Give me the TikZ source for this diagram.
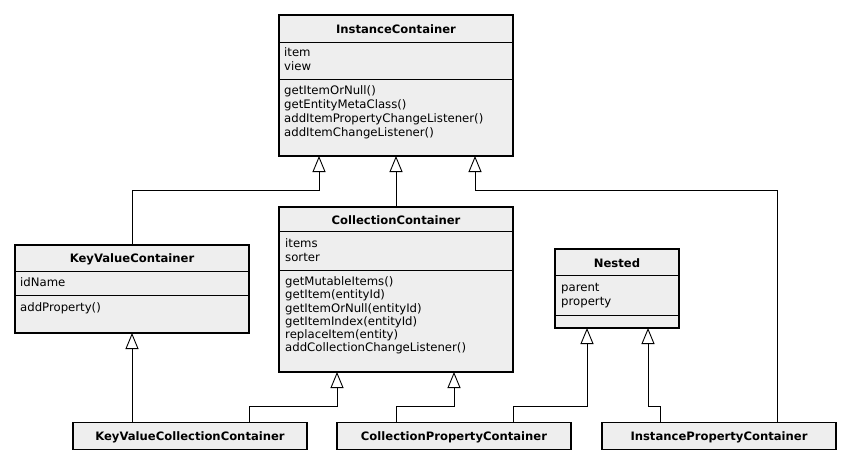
\documentclass[tikz,border=0pt]{standalone}
\usepackage{fontspec}
\setmainfont{DejaVu Sans}
\usetikzlibrary{arrows.meta}
\definecolor{boxfill}{HTML}{EEEEEE}
\tikzset{
  cls/.style={draw=black, line width=1.1pt, fill=boxfill, rectangle, inner sep=0pt, outer sep=0pt, anchor=north west},
  sepline/.style={draw=black, line width=0.9pt},
  ttl/.style={font=\fontsize{11.6}{14}\selectfont\bfseries, inner sep=0pt, anchor=base},
  mem/.style={font=\fontsize{11.7}{14}\selectfont, inner sep=0pt, anchor=base west},
  inh/.style={draw=black, line width=0.9pt, -{Triangle[length=16pt,width=13pt,fill=white,line width=0.9pt]}}
}
\begin{document}
\begin{tikzpicture}[x=1pt,y=-1pt]
\useasboundingbox (0,0) rectangle (851,464);

% InstanceContainer
\node[cls, minimum width=234, minimum height=141] (ic) at (279,15) {};
\draw[sepline] (ic.west |- 0,42) -- (ic.east |- 0,42);
\draw[sepline] (ic.west |- 0,79) -- (ic.east |- 0,79);
\node[ttl] (ict) at (396,33) {InstanceContainer};
\node[mem] (ica1) at (284,56.8) {item};
\node[mem] (ica2) at (284,70.8) {view};
\node[mem] (icm1) at (284,94.4) {getItemOrNull()};
\node[mem] (icm2) at (284,108.4) {getEntityMetaClass()};
\node[mem] (icm3) at (284,122.4) {addItemPropertyChangeListener()};
\node[mem] (icm4) at (284,136.4) {addItemChangeListener()};

% KeyValueContainer
\node[cls, minimum width=234, minimum height=88] (kvc) at (15,245) {};
\draw[sepline] (kvc.west |- 0,271) -- (kvc.east |- 0,271);
\draw[sepline] (kvc.west |- 0,295) -- (kvc.east |- 0,295);
\node[ttl] (kvct) at (132,262.5) {KeyValueContainer};
\node[mem] (kvca1) at (20,286.8) {idName};
\node[mem] (kvcm1) at (20,311.8) {addProperty()};

% CollectionContainer
\node[cls, minimum width=234, minimum height=165] (cc) at (279,207) {};
\draw[sepline] (cc.west |- 0,231) -- (cc.east |- 0,231);
\draw[sepline] (cc.west |- 0,270.5) -- (cc.east |- 0,270.5);
\node[ttl] (cct) at (396,224.5) {CollectionContainer};
\node[mem] (cca1) at (285,247.5) {items};
\node[mem] (cca2) at (285,261.5) {sorter};
\node[mem] (ccm1) at (285,285.2) {getMutableItems()};
\node[mem] (ccm2) at (285,298.6) {getItem(entityId)};
\node[mem] (ccm3) at (285,312) {getItemOrNull(entityId)};
\node[mem] (ccm4) at (285,325.4) {getItemIndex(entityId)};
\node[mem] (ccm5) at (285,338.6) {replaceItem(entity)};
\node[mem] (ccm6) at (285,351.2) {addCollectionChangeListener()};

% Nested
\node[cls, minimum width=124, minimum height=79] (nst) at (555,249) {};
\draw[sepline] (nst.west |- 0,275) -- (nst.east |- 0,275);
\draw[sepline] (nst.west |- 0,315) -- (nst.east |- 0,315);
\node[ttl] (nstt) at (617,267) {Nested};
\node[mem] (nsta1) at (561,291) {parent};
\node[mem] (nsta2) at (561,305.8) {property};

% bottom row
\node[cls, minimum width=234, minimum height=27] (kvcc) at (73,422.5) {};
\node[ttl] (kvcct) at (190,440.2) {KeyValueCollectionContainer};
\node[cls, minimum width=234, minimum height=27] (cpc) at (337,422.5) {};
\node[ttl] (cpct) at (454,440.2) {CollectionPropertyContainer};
\node[cls, minimum width=234, minimum height=27] (ipc) at (602,422.5) {};
\node[ttl] (ipct) at (719,440.2) {InstancePropertyContainer};

% generalisations
\draw[inh] (kvc.north) |- (319,190) -- (319,0 |- ic.south);
\draw[inh] (cc.north) -- (ic.south);
\draw[inh] (777,0 |- ipc.north) |- (475,190) -- (475,0 |- ic.south);
\draw[inh] (132,0 |- kvcc.north) -- (kvc.south);
\draw[inh] (249,0 |- kvcc.north) |- (337,406.7) -- (337,0 |- cc.south);
\draw[inh] (396,0 |- cpc.north) |- (454,406.7) -- (454,0 |- cc.south);
\draw[inh] (513,0 |- cpc.north) |- (587,406.7) -- (587,0 |- nst.south);
\draw[inh] (660,0 |- ipc.north) |- (648,406.7) -- (648,0 |- nst.south);
\end{tikzpicture}
\end{document}
